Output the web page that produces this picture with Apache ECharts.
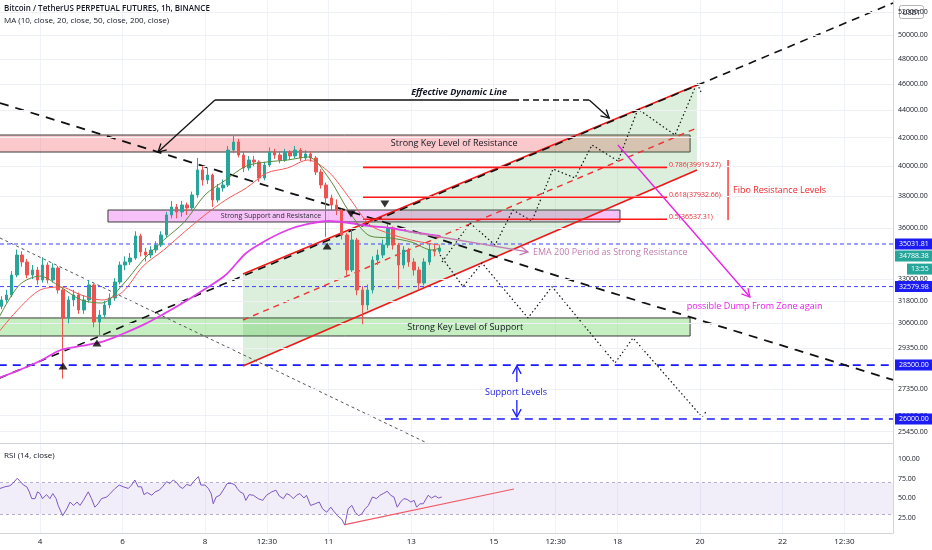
<!DOCTYPE html>
<html><head><meta charset="utf-8">
<script src="https://cdn.jsdelivr.net/npm/echarts@6/dist/echarts.min.js"></script>
<style>html,body{margin:0;padding:0;background:#fff}#c{width:932px;height:550px}</style>
</head><body><div id="c"></div>
<script>
// ---------- DATA ----------
const titleText = 'Bitcoin / TetherUS PERPETUAL FUTURES, 1h, BINANCE';
const maText = 'MA (10, close, 20, close, 50, close, 200, close)';
const rsiTitle = 'RSI (14, close)';

const candleStartDay = 3.0625, candleStepDays = 0.125; // 3h candles
// [open, close, low, high]
const candleOHLC = [
[31500,31845,31350,32050],[31845,32115,31700,32400],[32115,33230,32000,33450],[33230,34380,33100,34700],
[34380,33975,33700,34600],[33975,33230,33050,34150],[33230,33513,33000,33800],[33513,32946,32700,33700],
[32946,33800,32800,34250],[33800,32946,32750,33950],[32946,33630,32800,33900],[33630,32391,32200,33750],
[32391,30880,27850,32500],[30880,31845,30600,32050],[31845,32115,31500,32400],[32115,31305,31100,32250],
[31305,31845,31100,32100],[31845,32670,31700,32950],[32670,30672,30400,32750],[30672,31040,30000,31300],
[31040,31575,30900,31800],[31575,31955,31400,32200],[31955,32835,31800,33050],[32835,33800,32700,34000],
[33800,33975,33500,34300],[33975,34205,33800,34500],[34205,35515,34100,35800],[35515,34560,34300,35650],
[34560,34380,34000,34800],[34380,34676,34200,34900],[34676,34970,34500,35200],[34970,35574,34850,35800],
[35574,36810,35450,37000],[36810,37310,36600,37700],[37310,36995,36600,37500],[36995,37440,36700,37700],
[37440,37250,36800,37600],[37250,38085,37100,38300],[38085,39741,37900,40560],[39741,39067,38700,40000],
[39067,39400,38800,39900],[39400,37760,37310,39500],[37760,38540,37600,38800],[38540,38735,38300,39100],
[38735,41115,38600,41400],[41115,41680,40900,42100],[41680,40770,40600,41900],[40770,39875,39600,41000],
[39875,40422,39700,40700],[40422,40285,40000,40700],[40285,39200,38950,40400],[39200,40080,39050,40300],
[40080,40975,39950,41300],[40975,40770,40500,41200],[40770,40422,40200,41000],[40422,40975,40300,41200],
[40975,40700,40450,41100],[40700,41115,40550,41400],[41115,40560,40350,41250],[40560,40840,40400,41100],
[40840,40560,40300,41000],[40560,39605,39400,40700],[39605,38735,38500,39800],[38735,37890,35460,38900],
[37890,37440,37100,38100],[37440,37120,36800,37800],[37120,35574,35300,37200],[35574,33513,33200,35700],
[33513,35271,33400,35877],[35271,32391,32100,35400],[32391,31575,30560,32600],[31575,32391,31300,32700],
[32391,34089,32200,34300],[34089,34380,33800,34700],[34380,34970,34200,35300],[34970,36000,34800,36250],
[36000,34970,34700,36100],[34970,33800,32450,35100],[33800,34676,33600,34900],[34676,33975,33700,34800],
[33975,33513,33200,34200],[33513,32780,32390,33700],[32780,33975,32650,34200],[33975,34676,33800,35100],
[34676,34600,34300,35000],[34600,34788.38,34450,34950]
];

const maDays = [3.0,3.5,4.0,4.5,5.0,5.5,6.0,6.5,7.0,7.5,8.0,8.5,9.0,9.5,10.0,10.5,11.0,11.5,12.0,12.5,13.0,13.5,13.7];
const ma20  = [30880,32670,33170,32555,31845,31680,32670,34089,35271,36370,38085,39067,40010,40285,40422,40630,39200,36995,35515,35390,35150,34676,34788];
const ma50  = [30155,31410,32391,32555,32115,31845,32280,33740,34676,35757,36810,37760,38540,39540,39875,40422,39605,37890,36185,35635,35271,35034,34970];
const ma200 = [27880,28263,28700,29244,29445,29650,30050,30520,31100,31735,32445,33230,34500,35271,35877,36247,36433,36309,36123,36000,35757,35574,35515];

const rsiDays = [3.03,3.15,3.27,3.34,3.45,3.51,3.60,3.68,3.74,3.80,3.88,3.94,4.00,4.06,4.16,4.24,4.31,4.39,4.44,4.55,
4.65,4.73,4.81,4.90,4.97,5.05,5.17,5.25,5.33,5.41,5.49,5.62,5.70,5.82,5.92,6.02,6.14,6.22,6.30,6.38,
6.46,6.52,6.60,6.71,6.79,6.89,6.97,7.07,7.15,7.23,7.31,7.39,7.46,7.56,7.65,7.72,7.84,7.90,8.00,8.08,
8.15,8.20,8.27,8.36,8.44,8.54,8.65,8.73,8.78,8.85,8.93,8.99,9.07,9.17,9.29,9.40,9.49,9.62,9.72,9.80,
9.90,9.98,10.06,10.14,10.22,10.30,10.40,10.46,10.56,10.67,10.77,10.85,10.95,11.05,11.11,11.21,11.31,11.39,11.47,11.56,
11.64,11.72,11.80,11.88,11.96,12.06,12.16,12.24,12.32,12.42,12.50,12.58,12.66,12.74,12.82,12.90,12.99,13.07,13.13,13.21,
13.29,13.41,13.49,13.58,13.66,13.74];
const rsiVals = [62.7,64.8,66.1,69.1,75.6,72.2,67.0,64.8,58.4,49.8,49.8,58.4,56.2,49.8,54.9,49.8,56.2,49.8,41.2,28.3,
36.9,45.5,41.2,45.5,41.2,47.6,58.4,49.8,39.0,43.3,49.8,51.9,56.2,62.7,67.0,64.8,62.7,67.0,73.4,64.8,
64.8,54.9,57.5,54.1,58.4,60.5,64.8,71.3,69.1,73.4,70.4,64.8,62.7,67.8,66.1,71.3,77.7,67.0,67.0,62.7,
56.2,43.3,51.9,54.1,60.5,69.1,69.1,67.0,62.7,58.4,56.2,47.6,54.9,54.1,49.8,47.6,54.1,58.4,60.5,53.2,
49.8,56.2,54.1,49.8,54.1,56.2,50.6,54.1,41.2,43.3,45.5,36.9,32.6,39.0,34.7,28.3,24.0,16.2,36.9,41.2,
32.6,28.3,30.4,36.9,41.2,51.9,49.8,54.1,56.2,59.2,54.1,51.9,39.0,45.5,49.8,48.9,45.5,47.6,39.0,43.3,
43.3,54.1,50.6,53.2,50.6,51.9];
const rsiTrend = [[11.39,17],[15.49,62]];
const rsiBand = [30,70];
const rsiTicks = [25,50,75,100];

const priceTicks = [52000,50000,48000,46000,44000,42000,40000,38000,36000,33000,31800,30600,29350,27350,26150,25450];
const xTickDays = [4,6,8,9.5,11,13,15,16.5,18,20,22,23.5];
const xTickLabels = ['4','6','8','12:30','11','13','15','12:30','18','20','22','12:30'];

const lastPrice = 34788.38;
const timerText = '13:55';
const minorLevels = [35031.81, 32579.98];
const supportLevels = [28500, 26000];
const supportLevelStart = [3.0, 12.36];
const fibLevels = [39919.27, 37932.66, 36537.31];
const fibRatios = ['0.786', '0.618', '0.5'];
const fibSpan = [11.83, 19.2];
const fibBracket = [[20.68,40422],[20.68,36494]];

// zones: [dayFrom, priceLow, dayTo, priceHigh]
const zoneBoxes = [[2.9,40975,19.76,42181],[5.648,36370,18.06,37120],[2.9,29950,19.76,30884]];
// channel: [day1, upper1, lower1, day2, upper2, lower2]
const channel = [8.921,33286,28458,19.927,45933,39741];
const channelMid = [[8.921,30776],[19.927,42688]];
const risingDashed = [[3.03,27882],[24.68,52816]];
const fallingDashed = [[3.03,44544],[24.68,27787]];
const grayDashed = [[3.03,35392],[13.33,25002]];
const zigzagUp = [[13.745,33974],[14.424,36308],[15.03,34972],[15.466,37120],[15.927,36432],[16.436,39806],[16.97,39201],[17.382,41469],[18.012,40352],[18.497,44088],[19.394,42181],[19.927,46090],[20.024,45385]];
const zigzagDown = [[13.697,34382],[14.255,32580],[14.715,33917],[15.83,30884],[16.412,32580],[17.94,28602],[18.376,29851],[20.048,26090],[20.145,26323]];
const dynLineSolid = [[8.242,44773],[15.467,44773]];
const dynLineDashed = [[15.467,44773],[17.315,44773]];
// arrows: [dayFrom, priceFrom, dayTo, priceTo]
const arrows = [[8.242,44773,6.861,40975],[17.315,44773,17.80,43420],[12.85,35817,15.83,34560],[18.01,41469,21.21,32007],[15.56,27690,15.56,28458],[15.56,26856,15.56,26090]];
const marksDown = [[12.36,37502],[11.54,36869]];
const marksUp = [[10.96,34913],[4.56,28458],[5.38,29596]];

const noteTexts = ['Strong Key Level of Resistance','Strong Support and Resistance','Strong Key Level of Support','Effective Dynamic Line','EMA 200 Period as Strong Resistance','possible Dump From Zone again','Support Levels','Fibo Resistance Levels'];
const noteAnchors = [[14.04,41574],[9.6,36743],[14.31,30412],[14.16,45385],[15.95,34560],[19.68,31521],[15.54,27222],[20.80,38410]];

// ---------- CHART ----------
const FONT = '"Open Sans","Noto Sans",sans-serif';
const X_MIN = 3.0303, X_MAX = 24.679;
const Y_MIN = 24958, Y_MAX = 53090;
const RSI_MIN = 6.3, RSI_MAX = 119;

const noteStyles = [
  {c:'#131722', s:9, a:'center'},
  {c:'#2a2e39', s:7, a:'center'},
  {c:'#131722', s:9, a:'center'},
  {c:'#131722', s:9, a:'center', w:'bold', i:'italic'},
  {c:'#c27bb0', s:9, a:'left'},
  {c:'#e81ee6', s:9, a:'left', w:'500'},
  {c:'#1a1ad6', s:9, a:'center'},
  {c:'#f0282d', s:9, a:'left', w:'500'}
];
const zoneFills = ['rgba(242,60,70,0.28)','rgba(232,80,232,0.35)','rgba(110,215,100,0.40)'];
const arrowColors = ['#111','#111','#c27bb0','#e81ee6','#1a1aff','#1a1aff'];

const candleData = candleOHLC.map((r,i)=>[candleStartDay + i*candleStepDays, r[0], r[1], r[2], r[3]]);
const pairs = (xs, ys) => xs.map((x,i)=>[x, ys[i]]);

function lineS(data, color, width, type, z, extra) {
  return Object.assign({type:'line', xAxisIndex:0, yAxisIndex:0, data, symbol:'none', silent:true, z: z||4,
    lineStyle:{color, width, type: type||'solid'}, animation:false}, extra||{});
}
function chevron(p0, p1, color, width, h) {
  const a = Math.atan2(p1[1]-p0[1], p1[0]-p0[0]);
  const h1 = [p1[0]-h*Math.cos(a-0.5), p1[1]-h*Math.sin(a-0.5)];
  const h2 = [p1[0]-h*Math.cos(a+0.5), p1[1]-h*Math.sin(a+0.5)];
  return [
    {type:'line', shape:{x1:p0[0],y1:p0[1],x2:p1[0],y2:p1[1]}, style:{stroke:color, lineWidth:width}},
    {type:'polyline', shape:{points:[h1,p1,h2]}, style:{stroke:color, lineWidth:width, fill:null}}
  ];
}

const series = [];
// horizontal price grid lines
series.push({type:'line', xAxisIndex:0, yAxisIndex:0, data:[], silent:true, z:0,
  markLine:{silent:true, symbol:['none','none'], animation:false, label:{show:false},
    lineStyle:{color:'#eef0f5', width:1, type:'solid'}, data: priceTicks.map(v=>({yAxis:v}))}});
// zones
series.push({type:'custom', xAxisIndex:0, yAxisIndex:0, z:1, clip:true, silent:true, data: zoneBoxes,
  encode:{x:[0,2], y:[1,3]},
  renderItem:(p, api)=>{ const a=api.coord([api.value(0),api.value(1)]), b=api.coord([api.value(2),api.value(3)]);
    return {type:'rect', shape:{x:Math.min(a[0],b[0]), y:Math.min(a[1],b[1]), width:Math.abs(b[0]-a[0]), height:Math.abs(b[1]-a[1])},
      style:{fill:zoneFills[p.dataIndex], stroke:'#3a3a3a', lineWidth:1}}; }});
// channel fill
series.push({type:'custom', xAxisIndex:0, yAxisIndex:0, z:1, clip:true, silent:true, data:[channel],
  encode:{x:[0,3], y:[1,2,4,5]},
  renderItem:(p, api)=>{ const v=i=>api.value(i);
    const pts=[api.coord([v(0),v(1)]), api.coord([v(3),v(4)]), api.coord([v(3),v(5)]), api.coord([v(0),v(2)])];
    return {type:'polygon', shape:{points:pts}, style:{fill:'rgba(76,175,80,0.20)'}}; }});
// level lines
minorLevels.forEach(v=>series.push(lineS([[X_MIN,v],[X_MAX,v]], '#4040ff', 1, [4,3], 3)));
supportLevels.forEach((v,i)=>series.push(lineS([[supportLevelStart[i],v],[X_MAX,v]], '#1a1aff', 1.6, [8,6], 3)));
// fib levels + labels
series.push({type:'custom', xAxisIndex:0, yAxisIndex:0, z:6, silent:true, data:fibLevels.map(v=>[fibSpan[0], v, fibSpan[1]]), encode:{x:[0,2], y:1},
  renderItem:(p, api)=>{ const a=api.coord([api.value(0),api.value(1)]), b=api.coord([api.value(2),api.value(1)]);
    return {type:'group', children:[
      {type:'line', shape:{x1:a[0], y1:a[1], x2:b[0], y2:b[1]}, style:{stroke:'#ff1a1a', lineWidth:1.6}},
      {type:'text', x:b[0]+2, y:b[1]+1, style:{text:fibRatios[p.dataIndex]+'('+fibLevels[p.dataIndex].toFixed(2)+')', fill:'#f0282d', fontSize:7, fontFamily:FONT, align:'left', verticalAlign:'bottom'}}
    ]}; }});
series.push(lineS(fibBracket, '#ff1a1a', 1.3, 'solid', 3));
// trend lines
series.push(lineS([[channel[0],channel[1]],[channel[3],channel[4]]], '#f01818', 1.6, 'solid', 4));
series.push(lineS([[channel[0],channel[2]],[channel[3],channel[5]]], '#f01818', 1.6, 'solid', 4));
series.push(lineS(channelMid, '#f03030', 1.4, [6,5], 4));
series.push(lineS(grayDashed, '#555', 1, [3,3], 4));
series.push(lineS(fallingDashed, '#111', 1.8, [9,7], 4));
series.push(lineS(risingDashed, '#111', 1.6, [8,6], 4));
series.push(lineS(zigzagUp, '#111', 1.2, [1.5,2.5], 4));
series.push(lineS(zigzagDown, '#111', 1.2, [1.5,2.5], 4));
series.push(lineS(dynLineSolid, '#111', 1.3, 'solid', 4));
series.push(lineS(dynLineDashed, '#111', 1.3, [6,4], 4));
// candles
series.push({type:'candlestick', xAxisIndex:0, yAxisIndex:0, z:5, silent:true, animation:false, data:candleData,
  encode:{x:0, y:[1,2,3,4]}, barWidth:3,
  itemStyle:{color:'#26a69a', color0:'#ef5350', borderColor:'#26a69a', borderColor0:'#ef5350', borderWidth:1}});
// moving averages
series.push(lineS(pairs(maDays, ma200), '#e040e8', 1.8, 'solid', 6, {smooth:0.3}));
series.push(lineS(pairs(maDays, ma50), '#f25a5a', 1, 'solid', 6, {smooth:0.3}));
series.push(lineS(pairs(maDays, ma20), '#5b8a3c', 1, 'solid', 6, {smooth:0.3}));
// arrows
series.push({type:'custom', xAxisIndex:0, yAxisIndex:0, z:7, silent:true, data:arrows, encode:{x:[0,2], y:[1,3]},
  renderItem:(p, api)=>{ const a=api.coord([api.value(0),api.value(1)]), b=api.coord([api.value(2),api.value(3)]);
    return {type:'group', children: chevron(a, b, arrowColors[p.dataIndex], 1.3, 9)}; }});
// triangles
series.push({type:'scatter', xAxisIndex:0, yAxisIndex:0, z:7, silent:true, data:marksDown, symbol:'triangle', symbolRotate:180, symbolSize:[9,7], itemStyle:{color:'#000'}});
series.push({type:'scatter', xAxisIndex:0, yAxisIndex:0, z:7, silent:true, data:marksUp, symbol:'triangle', symbolSize:[9,7], itemStyle:{color:'#000'}});
// annotation texts
series.push({type:'custom', xAxisIndex:0, yAxisIndex:0, z:8, silent:true, data:noteAnchors, encode:{x:0, y:1},
  renderItem:(p, api)=>{ const c=api.coord([api.value(0),api.value(1)]); const st=noteStyles[p.dataIndex];
    return {type:'text', x:c[0], y:c[1], style:{text:noteTexts[p.dataIndex], fill:st.c, fontSize:st.s, fontFamily:FONT,
      fontWeight:st.w||'normal', fontStyle:st.i||'normal', align:st.a, verticalAlign:'middle'}}; }});
// price axis labels
series.push({type:'custom', xAxisIndex:0, yAxisIndex:0, z:9, silent:true, data:priceTicks.map(v=>[X_MAX, v]), encode:{x:0, y:1},
  renderItem:(p, api)=>{ const c=api.coord([api.value(0),api.value(1)]);
    return {type:'text', x:c[0]+5, y:c[1], style:{text:priceTicks[p.dataIndex].toFixed(2), fill:'#131722', fontSize:7, fontFamily:FONT, align:'left', verticalAlign:'middle'}}; }});
// price badges
const badgeVals = minorLevels.concat(supportLevels);
series.push({type:'custom', xAxisIndex:0, yAxisIndex:0, z:10, silent:true, data:badgeVals.map(v=>[X_MAX, v]), encode:{x:0, y:1},
  renderItem:(p, api)=>{ const c=api.coord([api.value(0),api.value(1)]);
    return {type:'text', x:c[0]+2, y:c[1], style:{text:badgeVals[p.dataIndex].toFixed(2), fill:'#fff', fontSize:7, fontFamily:FONT, align:'left', verticalAlign:'middle', backgroundColor:'#1c1cf2', padding:[2,6,2,4]}}; }});
series.push({type:'custom', xAxisIndex:0, yAxisIndex:0, z:10, silent:true, data:[[X_MAX, lastPrice]], encode:{x:0, y:1},
  renderItem:(p, api)=>{ const c=api.coord([api.value(0),api.value(1)]);
    return {type:'group', children:[
      {type:'text', x:c[0]+2, y:c[1]+8, style:{text:lastPrice.toFixed(2), fill:'#fff', fontSize:7, fontFamily:FONT, align:'left', verticalAlign:'middle', backgroundColor:'#26a69a', padding:[2,6,2,4]}},
      {type:'text', x:c[0]+14, y:c[1]+21, style:{text:timerText, fill:'#fff', fontSize:7, fontFamily:FONT, align:'left', verticalAlign:'middle', backgroundColor:'#26a69a', padding:[2,10,2,4]}}
    ]}; }});
// RSI
series.push({type:'line', xAxisIndex:1, yAxisIndex:1, data:pairs(rsiDays, rsiVals), symbol:'none', silent:true, z:5,
  lineStyle:{color:'#7e57c2', width:1}, animation:false,
  markArea:{silent:true, itemStyle:{color:'rgba(126,87,194,0.10)'}, data:[[{yAxis:rsiBand[0]},{yAxis:rsiBand[1]}]]},
  markLine:{silent:true, symbol:['none','none'], label:{show:false}, lineStyle:{color:'#b8aed0', width:1, type:[3,3]},
    data: rsiBand.map(v=>({yAxis:v}))}});
series.push({type:'line', xAxisIndex:1, yAxisIndex:1, data:rsiTrend, symbol:'none', silent:true, z:6,
  lineStyle:{color:'#f05a64', width:1.2}, animation:false});

const option = {
  animation:false,
  backgroundColor:'#ffffff',
  title:[
    {left:4, top:5, padding:0, itemGap:4, text:titleText, textStyle:{fontSize:8, fontWeight:600, color:'#131722', fontFamily:FONT},
     subtext:maText, subtextStyle:{fontSize:8, color:'#131722', fontFamily:FONT}},
    {left:4, top:452, padding:0, text:rsiTitle, textStyle:{fontSize:8, fontWeight:'normal', color:'#131722', fontFamily:FONT}}
  ],
  grid:[
    {left:0, right:39, top:0, height:443},
    {left:0, right:39, top:444, height:89}
  ],
  xAxis:[
    {type:'value', gridIndex:0, min:X_MIN, max:X_MAX, axisLabel:{show:false},
     axisTick:{show:false, customValues:xTickDays}, axisLine:{show:true, onZero:false, lineStyle:{color:'#d1d4dc'}},
     splitLine:{show:true, lineStyle:{color:'#f0f3fa'}}},
    {type:'value', gridIndex:1, min:X_MIN, max:X_MAX,
     axisLabel:{customValues:xTickDays, formatter:(v)=>{const i=xTickDays.indexOf(v); return i>=0?xTickLabels[i]:'';}, fontSize:8, color:'#131722', fontFamily:FONT, margin:5},
     axisTick:{show:false, customValues:xTickDays}, axisLine:{show:true, onZero:false, lineStyle:{color:'#d1d4dc'}},
     splitLine:{show:true, lineStyle:{color:'#f0f3fa'}}}
  ],
  yAxis:[
    {type:'log', logBase:10, gridIndex:0, position:'right', min:Y_MIN, max:Y_MAX, axisLabel:{show:false}, axisTick:{show:false},
     splitLine:{show:false}, axisLine:{show:true, lineStyle:{color:'#d1d4dc'}}},
    {type:'value', gridIndex:1, position:'right', min:RSI_MIN, max:RSI_MAX,
     axisLabel:{customValues:rsiTicks, formatter:(v)=>v.toFixed(2), fontSize:7, color:'#131722', fontFamily:FONT, margin:5},
     axisTick:{show:false, customValues:rsiTicks}, splitLine:{show:false}, axisLine:{show:true, lineStyle:{color:'#d1d4dc'}}}
  ],
  graphic:[
    {type:'group', right:8, top:5, z:100, children:[
      {type:'rect', shape:{x:0, y:0, width:24, height:13, r:2}, style:{fill:'#fff', stroke:'#b2b5be', lineWidth:1}},
      {type:'text', x:12, y:7, style:{text:'USDT', fontSize:7, fill:'#131722', fontFamily:FONT, align:'center', verticalAlign:'middle'}}
    ]}
  ],
  series
};
const chart = echarts.init(document.getElementById('c'), null, {renderer:'canvas'});
chart.setOption(option);
</script></body></html>
